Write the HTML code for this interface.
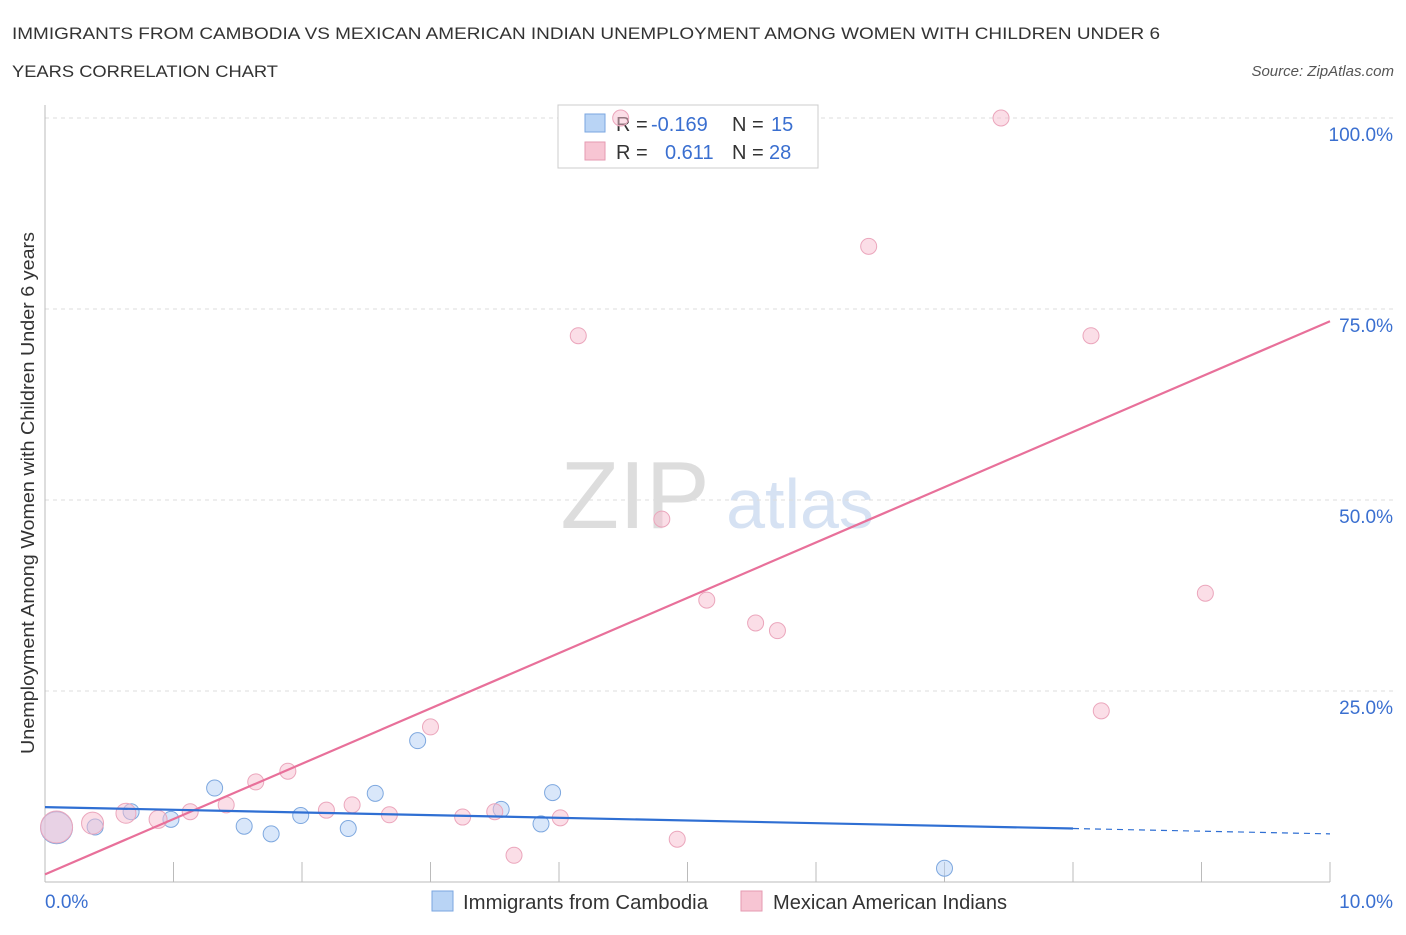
<!DOCTYPE html>
<html><head><meta charset="utf-8"><style>
body{margin:0;background:#fff;font-family:"Liberation Sans",sans-serif;}
svg text{font-family:"Liberation Sans",sans-serif;}
</style></head><body>
<svg id="chart" width="1406" height="930">
<text x="12" y="39" font-size="17" fill="#333" textLength="1148" lengthAdjust="spacingAndGlyphs">IMMIGRANTS FROM CAMBODIA VS MEXICAN AMERICAN INDIAN UNEMPLOYMENT AMONG WOMEN WITH CHILDREN UNDER 6</text>
<text x="12" y="77" font-size="17" fill="#333" textLength="266" lengthAdjust="spacingAndGlyphs">YEARS CORRELATION CHART</text>
<text x="1394" y="76" font-size="15" fill="#555" font-style="italic" text-anchor="end">Source: ZipAtlas.com</text>
<text x="635" y="528" font-size="96" fill="#ddd" font-family="Liberation Serif" text-anchor="middle">ZIP</text>
<text x="800" y="528" font-size="70" fill="#d6e2f3" text-anchor="middle">atlas</text>
<text transform="translate(34,493) rotate(-90)" font-size="18" fill="#333" text-anchor="middle" textLength="522" lengthAdjust="spacingAndGlyphs">Unemployment Among Women with Children Under 6 years</text>
<g id="axes"></g>
<g>
<rect x="558" y="105" width="260" height="63" fill="#fff" stroke="#ccc"/>
<rect x="585" y="114" width="20" height="18" fill="#b9d4f5" stroke="#7aa6e0"/>
<text x="616" y="131" font-size="20" fill="#333">R =</text><text x="651" y="131" font-size="20" fill="#3a6fd0">-0.169</text>
<text x="732" y="131" font-size="20" fill="#333">N =</text><text x="771" y="131" font-size="20" fill="#3a6fd0">15</text>
<rect x="585" y="142" width="20" height="18" fill="#f7c5d3" stroke="#e59ab2"/>
<text x="616" y="159" font-size="20" fill="#333">R =</text><text x="665" y="159" font-size="20" fill="#3a6fd0">0.611</text>
<text x="732" y="159" font-size="20" fill="#333">N =</text><text x="769" y="159" font-size="20" fill="#3a6fd0">28</text>
</g>
<g id="marks"></g>
<g>
<rect x="432" y="891" width="21" height="20" fill="#b9d4f5" stroke="#7aa6e0"/>
<text x="463" y="909" font-size="20" fill="#333" textLength="245" lengthAdjust="spacingAndGlyphs">Immigrants from Cambodia</text>
<rect x="741" y="891" width="21" height="20" fill="#f7c5d3" stroke="#e59ab2"/>
<text x="773" y="909" font-size="20" fill="#333" textLength="234" lengthAdjust="spacingAndGlyphs">Mexican American Indians</text>
</g>
</svg>
<script>
const yTicks=[25,50,75,100];
const yTickLabels=["25.0%","50.0%","75.0%","100.0%"];
const blueX=[0.09,0.39,0.67,0.98,1.32,1.55,1.76,1.99,2.36,2.57,2.90,3.55,3.86,3.95,7.00];
const blueY=[7.1,7.2,9.2,8.2,12.3,7.3,6.3,8.7,7.0,11.6,18.5,9.5,7.6,11.7,1.8];
const blueR=[16,8,8,8,8,8,8,8,8,8,8,8,8,8,8];
const pinkX=[0.09,0.37,0.63,0.88,1.13,1.41,1.64,1.89,2.19,2.39,2.68,3.00,3.25,3.50,3.65,4.01,4.15,4.48,4.80,4.92,5.15,5.53,5.70,6.41,7.44,8.14,8.22,9.03];
const pinkY=[7.2,7.7,9.0,8.2,9.2,10.1,13.1,14.5,9.4,10.1,8.8,20.3,8.5,9.2,3.5,8.4,71.5,100.0,47.5,5.6,36.9,33.9,32.9,83.2,100.0,71.5,22.4,37.8];
const pinkR=[16,11,10,9,8,8,8,8,8,8,8,8,8,8,8,8,8,8,8,8,8,8,8,8,8,8,8,8];
const pinkLine=[0,1.0,10,73.4];
const blueLine=[0,9.8,8,7.0,10,6.3];
const NS="http://www.w3.org/2000/svg";
const X=v=>45+v*128.5, Y=v=>882-v*7.64;
function mk(t,a,p){const e=document.createElementNS(NS,t);for(const k in a)e.setAttribute(k,a[k]);p.appendChild(e);return e;}
const ax=document.getElementById('axes'), mg=document.getElementById('marks');
yTicks.forEach((t,i)=>{
 const g=mk('line',{x1:45,x2:1395,y1:Y(t),y2:Y(t),stroke:'#ddd','stroke-dasharray':'4,4'},ax);
 
 
 const l=mk('text',{x:1393,y:Y(t)+23,'font-size':19,fill:'#3a6fd0','text-anchor':'end'},ax);l.textContent=yTickLabels[i];
 
 
});
const a1=mk('line',{x1:45,x2:45,y1:105,y2:882,stroke:'#bbb'},ax);


const a2=mk('line',{x1:45,x2:1330,y1:882,y2:882,stroke:'#bbb'},ax);


for(let i=0;i<=10;i++){const t=mk('line',{x1:X(i),x2:X(i),y1:862,y2:882,stroke:'#bbb'},ax);
 
 }
const xl0=mk('text',{x:45,y:908,'font-size':19,fill:'#3a6fd0'},ax);xl0.textContent='0.0%';


const xl1=mk('text',{x:1393,y:908,'font-size':19,fill:'#3a6fd0','text-anchor':'end'},ax);xl1.textContent='10.0%';


blueX.forEach((x,i)=>{const c=mk('circle',{cx:X(x),cy:Y(blueY[i]),r:blueR[i],fill:'rgba(180,208,245,0.5)',stroke:'#7ea8df','stroke-width':1},mg);
 
 });
pinkX.forEach((x,i)=>{const c=mk('circle',{cx:X(x),cy:Y(pinkY[i]),r:pinkR[i],fill:'rgba(247,190,207,0.5)',stroke:'#eba6bc','stroke-width':1},mg);
 
 });
const pl=mk('line',{x1:X(pinkLine[0]),y1:Y(pinkLine[1]),x2:X(pinkLine[2]),y2:Y(pinkLine[3]),stroke:'#e8709a','stroke-width':2.2},mg);


const bl=mk('line',{x1:X(blueLine[0]),y1:Y(blueLine[1]),x2:X(blueLine[2]),y2:Y(blueLine[3]),stroke:'#2f6fd3','stroke-width':2.2},mg);


const bd=mk('line',{x1:X(blueLine[2]),y1:Y(blueLine[3]),x2:X(blueLine[4]),y2:Y(blueLine[5]),stroke:'#2f6fd3','stroke-width':1.2,'stroke-dasharray':'6,5'},mg);


</script>
</body></html>
